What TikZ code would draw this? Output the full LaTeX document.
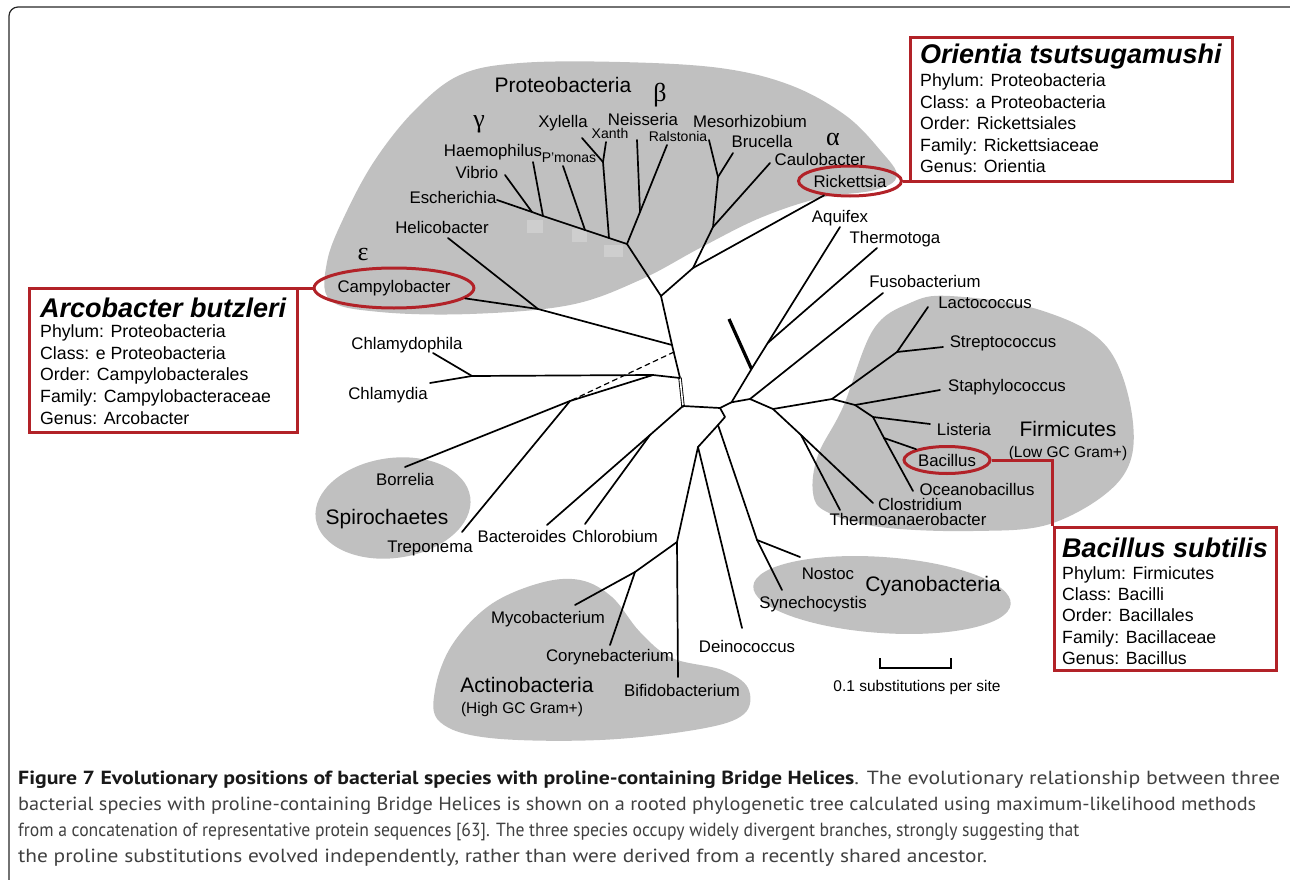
\documentclass[tikz,border=0pt]{standalone}
\usepackage{fontspec}
\usepackage{graphicx}
\setmainfont{Liberation Sans}
\newfontfamily\grkfont{Liberation Serif}
\newfontfamily\capfont{PT Sans}
\usetikzlibrary{shapes.geometric}
\definecolor{blob}{RGB}{192,192,192}
\definecolor{patch}{RGB}{206,206,206}
\definecolor{hl}{RGB}{178,34,40}
\newcommand{\fsz}[1]{\fontsize{#1}{#1}\selectfont}
\begin{document}
\begin{tikzpicture}[x=1pt,y=-1pt,
 br/.style={line width=1.7pt, line join=round, line cap=round},
 taxon/.style={font=\fsz{16.8}, inner sep=0pt, anchor=base},
 smalltx/.style={font=\fsz{14}, inner sep=0pt, anchor=base},
 grouptx/.style={font=\fsz{21}, inner sep=0pt, anchor=base},
 subtx/.style={font=\fsz{15.5}, inner sep=0pt, anchor=base},
 greek/.style={font=\grkfont\fsz{26}, inner sep=0pt, anchor=base},
 redell/.style={draw=hl, line width=3pt, ellipse, inner sep=0pt, font=\fsz{16.8}},
 infobox/.style={draw=hl, line width=3pt, fill=white, inner sep=0pt},
 redline/.style={draw=hl, line width=3pt},
 infott/.style={anchor=base west, inner sep=0pt, font=\bfseries\itshape\fsz{27}},
 info/.style={anchor=base west, inner sep=0pt, font=\fsz{17.7}},
 capline/.style={anchor=base west, inner sep=0pt, font=\capfont\fsz{19}, text=black!75},
]
\useasboundingbox (0,0) rectangle (1290,880);
% frame
\draw[line width=1.2pt, black!85, rounded corners=9pt] (9,890) -- (9,7) -- (1300,7);

% ---------- blobs ----------
\fill[blob] plot[smooth cycle, tension=0.6] coordinates {(330,300) (327,262) (345,215) (375,160) (415,110) (460,75) (520,63) (620,62) (720,68) (790,85) (845,115) (880,150) (897,176) (875,190) (820,198) (760,218) (700,248) (640,280) (570,305) (470,314) (380,312)};
\fill[patch] (527,220) rectangle (543,233);
\fill[patch] (572,229) rectangle (587,242);
\fill[patch] (604,245) rectangle (623,257);
\fill[blob] plot[smooth cycle, tension=0.6] coordinates {(813,493) (818,455) (843,407) (873,330) (910,303) (950,296) (1040,310) (1107,347) (1133,423) (1120,480) (1053,523) (973,531) (880,527) (827,512)};
\fill[blob, rotate around={8:(393,508)}] (393,508) ellipse [x radius=78, y radius=50];
\fill[blob] plot[smooth cycle, tension=0.6] coordinates {(440,722) (435,690) (452,645) (490,605) (540,583) (580,580) (612,597) (640,632) (672,658) (722,670) (748,688) (744,714) (700,729) (600,740) (490,738)};
\fill[blob, rotate around={-4:(882,595)}] (882,595) ellipse [x radius=129, y radius=38];

% ---------- coordinates ----------
\coordinate (R0) at (683,406);
\coordinate (Rt) at (680,378);
\coordinate (P0) at (661,296);
\coordinate (C1) at (672,345);
\coordinate (D1) at (674,352);
\coordinate (CS) at (653,375);
\coordinate (CH) at (472,376);
\coordinate (tChlp) at (433,353);
\coordinate (tChl) at (430,383);
\coordinate (SP) at (570,401);
\coordinate (tBor) at (405,467);
\coordinate (tTre) at (462,532);
\coordinate (E) at (538,309);
\coordinate (tHel) at (448,238);
\coordinate (G) at (627,244);
\coordinate (B1) at (640,212);
\coordinate (tNei) at (637,140);
\coordinate (tRal) at (667,145);
\coordinate (g1) at (609,238);
\coordinate (X0) at (603,162);
\coordinate (tXyl) at (582,138);
\coordinate (tXan) at (606,142);
\coordinate (g2) at (585,230);
\coordinate (tPm) at (563,166);
\coordinate (g3) at (543,216);
\coordinate (tHae) at (533,162);
\coordinate (g4) at (532,212);
\coordinate (tVib) at (505,175);
\coordinate (tEsc) at (497,200);
\coordinate (A1) at (693,268);
\coordinate (A2) at (713,227);
\coordinate (A3) at (718,177);
\coordinate (tCau) at (770,163);
\coordinate (tMes) at (709,140);
\coordinate (tBru) at (733,153);
\coordinate (R1) at (720,408);
\coordinate (N1) at (731.5,402.3);
\coordinate (N2) at (750,399);
\coordinate (U1) at (751.5,369);
\coordinate (U2) at (767.7,343);
\coordinate (tThk) at (729,319);
\coordinate (tAqu) at (840,227);
\coordinate (tThe) at (877,248);
\coordinate (tFus) at (883,293);
\coordinate (F5) at (773,409);
\coordinate (F1) at (832,399);
\coordinate (L) at (897,352);
\coordinate (tLac) at (928,307);
\coordinate (tStr) at (943,347);
\coordinate (F2) at (855,405);
\coordinate (tSta) at (940,390);
\coordinate (F3) at (873,417);
\coordinate (tLis) at (930,424);
\coordinate (F4) at (884,438);
\coordinate (tOce) at (913,491);
\coordinate (F6) at (801,435);
\coordinate (tClo) at (873,503);
\coordinate (tThm) at (840,510);
\coordinate (K1) at (725,417);
\coordinate (K2) at (718,425);
\coordinate (D) at (698,447);
\coordinate (A0) at (677,542);
\coordinate (tBif) at (678,677);
\coordinate (AM) at (635,572);
\coordinate (tMyc) at (575,605);
\coordinate (tCor) at (610,645);
\coordinate (tDei) at (742,628);
\coordinate (CY) at (757,540);
\coordinate (tNos) at (800,557);
\coordinate (tSyn) at (782,590);
\coordinate (BC) at (650,435);
\coordinate (tBct) at (547,525);
\coordinate (tChb) at (585,524);
\coordinate (sb1) at (880,658);
\coordinate (sb2) at (880,668);
\coordinate (sb3) at (951,668);
\coordinate (sb4) at (951,658);

% ---------- highlighted ellipses ----------
\node[redell, minimum width=138, minimum height=40] (campy) at (394,288) {Campylobacter};
\node[redell, minimum width=100, minimum height=30] (rick) at (850,181) {Rickettsia};
\node[redell, minimum width=86, minimum height=27] (bacil) at (947,460) {Bacillus};

% ---------- branches ----------
\draw[br] (Rt) -- (C1) -- (P0);
\draw[br, double distance=1.6pt, line width=0.9pt] (R0) -- (Rt);
\draw[br, dashed, line width=1.2pt, dash pattern=on 5pt off 4pt] (D1) -- (SP);
\draw[br] (C1) -- (E) -- (campy);
\draw[br] (E) -- (tHel);
\draw[br] (Rt) -- (CS) -- (CH) -- (tChlp);
\draw[br] (CH) -- (tChl);
\draw[br] (CS) -- (SP) -- (tBor);
\draw[br] (SP) -- (tTre);
\draw[br] (P0) -- (G) -- (B1) -- (tRal);
\draw[br] (B1) -- (tNei);
\draw[br] (G) -- (g1) -- (g2) -- (g3) -- (g4) -- (tEsc);
\draw[br] (g1) -- (X0) -- (tXyl);
\draw[br] (X0) -- (tXan);
\draw[br] (g2) -- (tPm);
\draw[br] (g3) -- (tHae);
\draw[br] (g4) -- (tVib);
\draw[br] (P0) -- (A1) -- (rick);
\draw[br] (A1) -- (A2) -- (tCau);
\draw[br] (A2) -- (A3) -- (tMes);
\draw[br] (A3) -- (tBru);
\draw[br] (R0) -- (R1) -- (N1) -- (N2) -- (tFus);
\draw[br] (N1) -- (U1) -- (U2) -- (tAqu);
\draw[br] (U2) -- (tThe);
\draw[line width=3.2pt] (U1) -- (tThk);
\draw[br] (N2) -- (F5) -- (F1) -- (L) -- (tLac);
\draw[br] (L) -- (tStr);
\draw[br] (F1) -- (F2) -- (tSta);
\draw[br] (F2) -- (F3) -- (tLis);
\draw[br] (F3) -- (F4) -- (tOce);
\draw[br] (F4) -- (bacil);
\draw[br] (F5) -- (F6) -- (tClo);
\draw[br] (F6) -- (tThm);
\draw[br] (R1) -- (K1) -- (K2) -- (D) -- (A0) -- (tBif);
\draw[br] (A0) -- (AM) -- (tMyc);
\draw[br] (AM) -- (tCor);
\draw[br] (D) -- (tDei);
\draw[br] (K2) -- (CY) -- (tNos);
\draw[br] (CY) -- (tSyn);
\draw[br] (R0) -- (BC) -- (tBct);
\draw[br] (BC) -- (tChb);
\draw[line width=1.6pt] (sb1) -- (sb2) -- (sb3) -- (sb4);

% ---------- labels ----------
\node[grouptx] (lProt) at (563,92.5) {Proteobacteria};
\node[greek] (lbeta) at (660,102) {β};
\node[greek] (lgam) at (479,128) {γ};
\node[greek] (lalp) at (833,146) {α};
\node[greek] (leps) at (363,260) {ε};
\node[taxon] (lXyl) at (563,128) {Xylella};
\node[taxon] (lNei) at (643,125) {Neisseria};
\node[smalltx] (lXan) at (610,139) {Xanth};
\node[smalltx] (lRal) at (678,142) {Ralstonia};
\node[taxon] (lHae) at (493,157) {Haemophilus};
\node[smalltx] (lPm) at (569,162) {P'monas};
\node[taxon] (lVib) at (477,178) {Vibrio};
\node[taxon] (lEsc) at (453,203) {Escherichia};
\node[taxon] (lHel) at (442,233) {Helicobacter};
\node[taxon] (lMes) at (750,128) {Mesorhizobium};
\node[taxon] (lBru) at (762,147) {Brucella};
\node[taxon] (lCau) at (820,165) {Caulobacter};
\node[taxon] (lAqu) at (840,222) {Aquifex};
\node[taxon] (lThe) at (895,243) {Thermotoga};
\node[taxon] (lFus) at (925,287) {Fusobacterium};
\node[taxon] (lLac) at (985,308) {Lactococcus};
\node[taxon] (lStr) at (1003,347) {Streptococcus};
\node[taxon] (lSta) at (1007,391) {Staphylococcus};
\node[taxon] (lLis) at (964,435) {Listeria};
\node[grouptx] (lFir) at (1068,436.5) {Firmicutes};
\node[subtx] (lLow) at (1068,457) {(Low GC Gram+)};
\node[taxon] (lOce) at (977,495) {Oceanobacillus};
\node[taxon] (lClo) at (920,510) {Clostridium};
\node[taxon] (lThm) at (908,525) {Thermoanaerobacter};
\node[taxon] (lChlp) at (407,349) {Chlamydophila};
\node[taxon] (lChl) at (388,399) {Chlamydia};
\node[taxon] (lBor) at (405,485) {Borrelia};
\node[grouptx] (lSpi) at (387,524.5) {Spirochaetes};
\node[taxon] (lTre) at (430,552) {Treponema};
\node[taxon] (lBct) at (522,542) {Bacteroides};
\node[taxon] (lChb) at (615,542) {Chlorobium};
\node[taxon] (lMyc) at (548,623) {Mycobacterium};
\node[taxon] (lCor) at (610,661) {Corynebacterium};
\node[taxon] (lBif) at (682,696) {Bifidobacterium};
\node[grouptx] (lAct) at (527,692.5) {Actinobacteria};
\node[subtx] (lHigh) at (522,713) {(High GC Gram+)};
\node[taxon] (lDei) at (747,652) {Deinococcus};
\node[taxon] (lNos) at (828,579) {Nostoc};
\node[grouptx] (lCya) at (933,591.5) {Cyanobacteria};
\node[taxon] (lSyn) at (813,608) {Synechocystis};
\node[subtx] (lSb) at (917,691) {0.1 substitutions per site};

% ---------- info boxes ----------
\node[infobox, minimum width=322, minimum height=143] (obox) at (1071,109.5) {};
\node[infott] (ot) at (920,64) {Orientia tsutsugamushi};
\foreach \t [count=\i] in {Phylum: Proteobacteria, Class: a Proteobacteria, Order: Rickettsiales, Family: Rickettsiaceae, Genus: Orientia}
  \node[info] (o\i) at (920,65.5+21.4*\i) {\t};
\draw[redline] (rick.east) -- (rick.east -| obox.west);

\node[infobox, minimum width=268, minimum height=144] (abox) at (163,360) {};
\node[infott] (at) at (40,317) {Arcobacter butzleri};
\foreach \t [count=\i] in {Phylum: Proteobacteria, Class: e Proteobacteria, Order: Campylobacterales, Family: Campylobacteraceae, Genus: Arcobacter}
  \node[info] (a\i) at (40,316+21.6*\i) {\t};
\draw[redline] (campy.west) -- (campy.west -| abox.east);

\node[infobox, minimum width=222, minimum height=143] (bbox) at (1165,598.5) {};
\node[infott] (bt) at (1062,557) {Bacillus subtilis};
\foreach \t [count=\i] in {Phylum: Firmicutes, Class: Bacilli, Order: Bacillales, Family: Bacillaceae, Genus: Bacillus}
  \node[info] (b\i) at (1062,558.3+21.2*\i) {\t};
\draw[redline] (bacil.east) -| (bbox.north west);

% ---------- caption ----------
\node[capline] (cap1) at (18,784) {\resizebox{1262pt}{\height}{{\bfseries\color{black!90}Figure 7 Evolutionary positions of bacterial species with proline-containing Bridge Helices}. The evolutionary relationship between three}};
\node[capline] (cap2) at (18,810) {\resizebox{1238pt}{\height}{bacterial species with proline-containing Bridge Helices is shown on a rooted phylogenetic tree calculated using maximum-likelihood methods}};
\node[capline] (cap3) at (18,836) {\resizebox{1061pt}{\height}{from a concatenation of representative protein sequences [63]. The three species occupy widely divergent branches, strongly suggesting that}};
\node[capline] (cap4) at (18,862) {\resizebox{969pt}{\height}{the proline substitutions evolved independently, rather than were derived from a recently shared ancestor.}};
\end{tikzpicture}
\end{document}
